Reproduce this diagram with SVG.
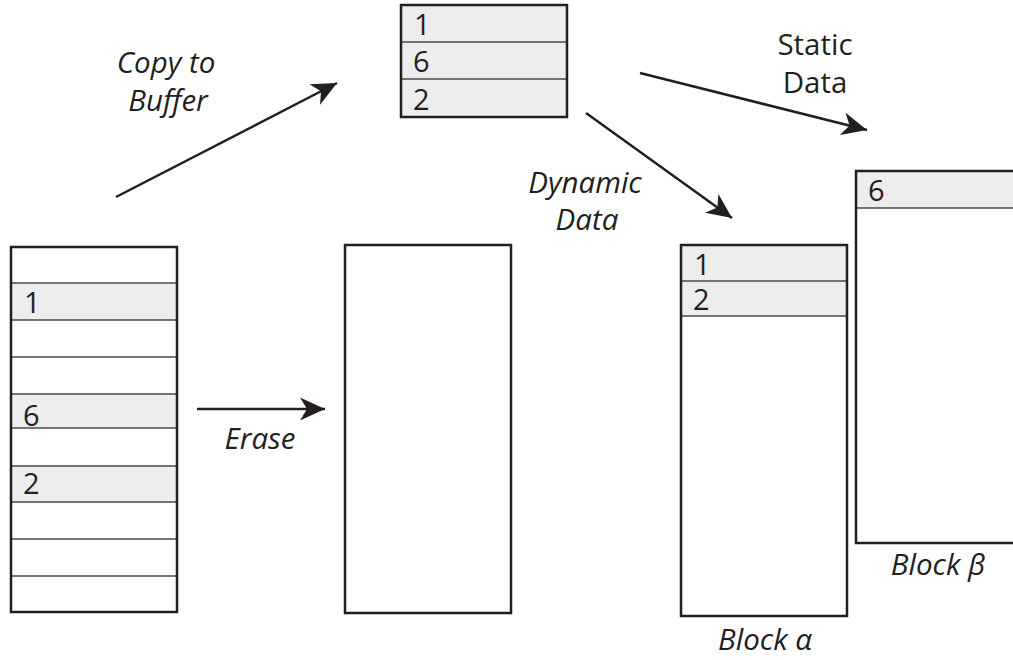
<svg xmlns="http://www.w3.org/2000/svg" width="1013" height="660" viewBox="0 0 1013 660">
  <style>
    .frame { fill: none; stroke: #231f20; stroke-width: 2.5; }
    .cell { fill: #ededed; }
    .rule { stroke: #4a4a4a; stroke-width: 1.3; }
    .num { font-family: "Open Sans", "Liberation Sans", sans-serif; font-size: 29px; fill: #231f20; }
    .lbl { font-family: "Open Sans", "Liberation Sans", sans-serif; font-size: 29.5px; fill: #231f20; text-anchor: middle; }
    .it { font-style: italic; }
    .conn { fill: none; stroke: #231f20; stroke-width: 2.5; }
  </style>
  <defs>
    <marker id="head" markerUnits="userSpaceOnUse" markerWidth="30" markerHeight="30" viewBox="-26 -15 30 30" refX="0" refY="0" orient="auto">
      <path d="M0,0 L-25,-11.5 L-18,0 L-25,11.5 Z" fill="#231f20"/>
    </marker>
  </defs>
  <rect width="1013" height="660" fill="#ffffff"/>

  <!-- source block: ten pages, three of them valid -->
  <g id="source-block">
    <rect class="cell" x="11" y="283" width="166" height="37"/>
    <rect class="cell" x="11" y="394" width="166" height="34"/>
    <rect class="cell" x="11" y="466" width="166" height="36"/>
    <line class="rule" x1="11" y1="283" x2="177" y2="283"/>
    <line class="rule" x1="11" y1="320" x2="177" y2="320"/>
    <line class="rule" x1="11" y1="357" x2="177" y2="357"/>
    <line class="rule" x1="11" y1="394" x2="177" y2="394"/>
    <line class="rule" x1="11" y1="428" x2="177" y2="428"/>
    <line class="rule" x1="11" y1="466" x2="177" y2="466"/>
    <line class="rule" x1="11" y1="502" x2="177" y2="502"/>
    <line class="rule" x1="11" y1="539" x2="177" y2="539"/>
    <line class="rule" x1="11" y1="576" x2="177" y2="576"/>
    <rect class="frame" x="11" y="247" width="166" height="365"/>
    <text class="num" x="24" y="313">1</text>
    <text class="num" x="23" y="426">6</text>
    <text class="num" x="23" y="494">2</text>
  </g>

  <!-- buffer holding the copied pages -->
  <g id="buffer">
    <rect class="cell" x="401" y="5" width="166" height="112"/>
    <line class="rule" x1="401" y1="42" x2="567" y2="42"/>
    <line class="rule" x1="401" y1="79" x2="567" y2="79"/>
    <rect class="frame" x="401" y="5" width="166" height="112"/>
    <text class="num" x="414" y="35">1</text>
    <text class="num" x="413" y="72">6</text>
    <text class="num" x="413" y="110">2</text>
  </g>

  <!-- erased block -->
  <g id="erased-block">
    <rect class="frame" x="345" y="245" width="166" height="368"/>
  </g>

  <!-- block alpha: dynamic data -->
  <g id="block-alpha">
    <rect class="cell" x="681" y="245" width="166" height="71"/>
    <line class="rule" x1="681" y1="281" x2="847" y2="281"/>
    <line class="rule" x1="681" y1="316" x2="847" y2="316"/>
    <rect class="frame" x="681" y="245" width="166" height="371"/>
    <text class="num" x="694" y="275">1</text>
    <text class="num" x="693" y="310">2</text>
    <text class="lbl it" x="765" y="650">Block α</text>
  </g>

  <!-- block beta: static data -->
  <g id="block-beta">
    <rect class="cell" x="856" y="171" width="180" height="37"/>
    <line class="rule" x1="856" y1="208" x2="1036" y2="208"/>
    <rect class="frame" x="856" y="171" width="180" height="372"/>
    <text class="num" x="868" y="201">6</text>
    <text class="lbl it" x="938" y="575">Block β</text>
  </g>

  <!-- connectors -->
  <g id="connectors">
    <line class="conn" x1="116" y1="197" x2="337" y2="83" marker-end="url(#head)"/>
    <line class="conn" x1="640" y1="73" x2="867" y2="130" marker-end="url(#head)"/>
    <line class="conn" x1="586" y1="113" x2="732" y2="218" marker-end="url(#head)"/>
    <line class="conn" x1="197" y1="409" x2="325" y2="409" marker-end="url(#head)"/>
    <text class="lbl it" x="166" y="73">Copy to</text>
    <text class="lbl it" x="168" y="111">Buffer</text>
    <text class="lbl" x="815" y="55">Static</text>
    <text class="lbl" x="815" y="93">Data</text>
    <text class="lbl it" x="585" y="193">Dynamic</text>
    <text class="lbl it" x="587" y="230">Data</text>
    <text class="lbl it" x="260" y="449">Erase</text>
  </g>
</svg>
